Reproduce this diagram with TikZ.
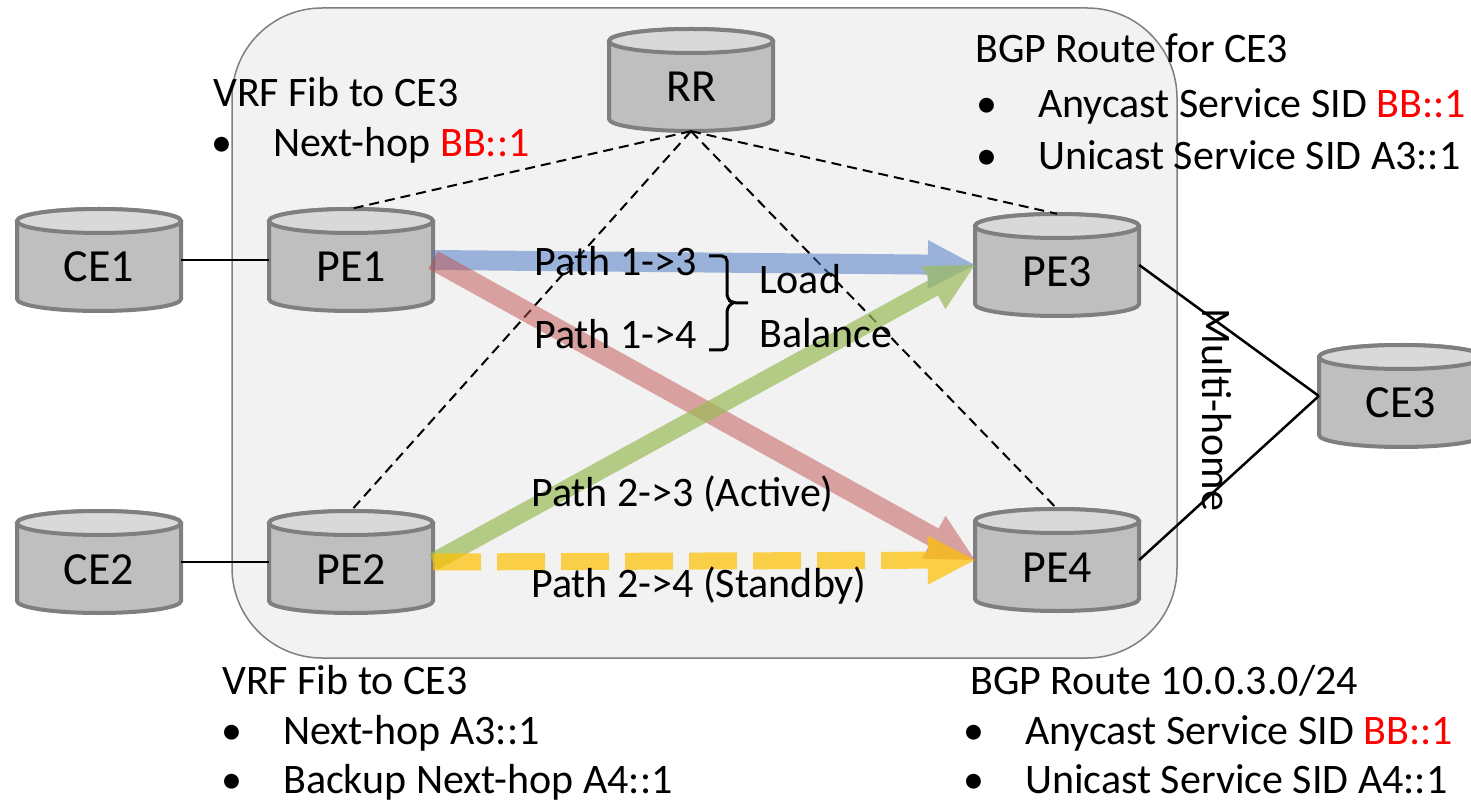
\documentclass[tikz,border=0pt]{standalone}
\usepackage{fontspec}
\setmainfont{Carlito}
\usetikzlibrary{arrows.meta}
\definecolor{dbedge}{HTML}{7F7F7F}
\definecolor{dbbody}{HTML}{BFBFBF}
\definecolor{dbtop}{HTML}{D9D9D9}
\definecolor{cloudbg}{HTML}{F2F2F2}
\definecolor{pathblue}{HTML}{4472C4}
\definecolor{pathred}{HTML}{C0504D}
\definecolor{pathgreen}{HTML}{9BBB59}
\definecolor{pathyellow}{HTML}{FFC000}
\definecolor{sidred}{HTML}{FF0000}
\tikzset{
	db/.style={minimum width=164pt, minimum height=102pt, inner sep=0pt, text height=44pt, text depth=0pt, font=\fontsize{46}{55}\selectfont},
	dbline/.style={draw=dbedge, line width=4pt},
	note/.style={anchor=base west, inner sep=0pt, font=\fontsize{42}{50}\selectfont},
	pathlbl/.style={anchor=base west, inner sep=0pt, font=\fontsize{42}{50}\selectfont},
	flow/.style={line width=20pt, -{Triangle[length=47pt,width=49pt,line width=0pt]}},
	ibgp/.style={line width=2pt, dash pattern=on 10pt off 6pt},
	link/.style={line width=2.5pt}
}
\newcommand{\bul}{\makebox[62pt][l]{\textbullet}}
\begin{document}
\begin{tikzpicture}[x=1pt, y=1pt]
	\useasboundingbox (0,0) rectangle (1471,804);
	% provider network
	\draw[draw=dbedge, line width=1.5pt, fill=cloudbg, rounded corners=90pt] (232,146) rectangle (1177,796);
	% routers
	\foreach \n/\x/\y/\t in {ce1/99/544/CE1, pe1/351/544/PE1, ce2/99/242/CE2, pe2/351/242/PE2, rr/691/724/RR, pe3/1057/539/PE3, pe4/1057/244/PE4, ce3/1401/408/CE3} {
		\draw[dbline, fill=dbbody] (\x-82,\y+39) -- (\x-82,\y-39)
			arc[start angle=180, end angle=360, x radius=82, y radius=12]
			-- (\x+82,\y+39)
			arc[start angle=0, end angle=180, x radius=82, y radius=12] -- cycle;
		\draw[dbline, fill=dbtop] (\x,\y+39) ellipse[x radius=82, y radius=12];
		\node[db] (\n) at (\x,\y) {\t};
	}
	% sessions to the RR
	\foreach \n in {pe1,pe2,pe3,pe4}
		\draw[ibgp] (rr.south) -- (\n.north);
	% access links
	\draw[link] (ce1.east) -- (pe1.west);
	\draw[link] (ce2.east) -- (pe2.west);
	\draw[link] (pe3.east) -- (ce3.west);
	\draw[link] (pe4.east) -- (ce3.west);
	\node[rotate=-90, inner sep=0pt, font=\fontsize{42}{50}\selectfont] (mh) at (1217,394) {Multi-home};
	% paths
	\begin{scope}[transparency group, opacity=0.5]
		\draw[flow, pathblue] (pe1.east) -- (pe3.west);
	\end{scope}
	\begin{scope}[transparency group, opacity=0.5]
		\draw[flow, pathred] (pe1.east) -- (pe4.west);
	\end{scope}
	\begin{scope}[transparency group, opacity=0.7]
		\draw[flow, pathgreen, line width=18pt] (pe2.east) -- (pe3.west);
	\end{scope}
	\begin{scope}[transparency group, opacity=0.7]
		\draw[flow, pathyellow, line width=17pt, dash pattern=on 48pt off 16pt] (pe2.east) -- (pe4.west);
	\end{scope}
	\node[pathlbl] (p13) at (534,528) {Path 1->3};
	\node[pathlbl] (p14) at (534,455) {Path 1->4};
	\draw[line width=3pt, rounded corners=5pt] (709,548) -- (727,548) -- (727,505) -- (733,501) -- (748,501)
		(733,501) -- (727,497) -- (727,454) -- (709,454);
	\node[pathlbl] (lb1) at (759,510) {Load};
	\node[pathlbl] (lb2) at (759,456) {Balance};
	\node[pathlbl] (p23) at (531,298) {Path 2->3 (Active)};
	\node[pathlbl] (p24) at (531,207) {Path 2->4 (Standby)};
	% tables
	\node[note] (vrf1) at (213,697) {VRF Fib to CE3};
	\node[note] (vrf1a) at (211,647) {\bul Next-hop \textcolor{sidred}{BB::1}};
	\node[note] (bgp3) at (975,741) {BGP Route for CE3};
	\node[note] (bgp3a) at (976,686) {\bul Anycast Service SID \textcolor{sidred}{BB::1}};
	\node[note] (bgp3b) at (976,634) {\bul Unicast Service SID A3::1};
	\node[note] (vrf2) at (222,110) {VRF Fib to CE3};
	\node[note] (vrf2a) at (221,60) {\bul Next-hop A3::1};
	\node[note] (vrf2b) at (221,11) {\bul Backup Next-hop A4::1};
	\node[note] (bgp4) at (970,110) {BGP Route 10.0.3.0/24};
	\node[note] (bgp4a) at (963,60) {\bul Anycast Service SID \textcolor{sidred}{BB::1}};
	\node[note] (bgp4b) at (963,11) {\bul Unicast Service SID A4::1};
\end{tikzpicture}
\end{document}
